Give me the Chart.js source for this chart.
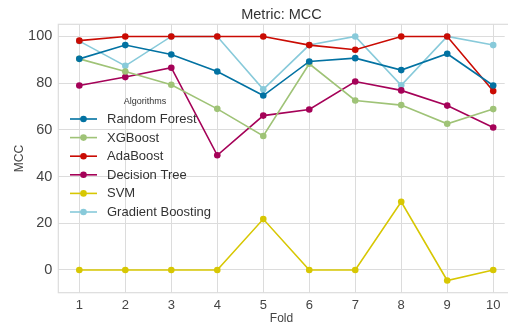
<!DOCTYPE html>
<html>
<head>
<meta charset="utf-8">
<script src="https://cdn.jsdelivr.net/npm/chart.js@4/dist/chart.umd.min.js"></script>
<style>
  html, body { margin: 0; padding: 0; background: #fff; }
  #wrap { width: 508px; height: 325px; }
</style>
</head>
<body>
<div id="wrap"><canvas id="chart" width="508" height="325"></canvas></div>
<script>
// Folds on the x axis
const folds = [1, 2, 3, 4, 5, 6, 7, 8, 9, 10];
const yTicks = [0, 20, 40, 60, 80, 100];

// MCC per fold
const randomForest = [90.4, 96.3, 92.3, 85.0, 74.7, 89.3, 90.7, 85.6, 92.6, 79.0];
const xgBoost = [90.4, 85.0, 79.3, 69.0, 57.4, 88.3, 72.6, 70.6, 62.6, 68.9];
const adaBoost = [98.2, 100, 100, 100, 100, 96.3, 94.3, 100, 100, 76.6];
const decisionTree = [79.0, 82.6, 86.6, 49.1, 66.1, 68.7, 80.7, 76.9, 70.4, 61.0];
const svm = [0, 0, 0, 0, 21.8, 0, 0, 29.2, -4.5, 0];
const gradientBoosting = [98.0, 87.4, 100, 100, 77.4, 96.3, 100, 79.1, 100, 96.3];

const names = ["Random Forest", "XGBoost", "AdaBoost", "Decision Tree", "SVM", "Gradient Boosting"];
const colors = ["#0272a2", "#9fc377", "#ca0b03", "#a50258", "#d7c703", "#88cada"];
const series = [randomForest, xgBoost, adaBoost, decisionTree, svm, gradientBoosting];

const FONT = "'Liberation Sans', Arial, sans-serif";
const GRID = "#dcdcdc";

const datasets = series.map((vals, i) => ({
  label: names[i],
  data: vals.map((v, j) => ({ x: folds[j], y: v })),
  borderColor: colors[i],
  backgroundColor: colors[i],
  borderWidth: 1.6,
  pointRadius: 3.3,
  pointHoverRadius: 3.3,
  pointBorderWidth: 0,
  tension: 0,
}));

// frame round the plot area, like the matplotlib axes box
const framePlugin = {
  id: "frame",
  beforeDatasetsDraw(chart) {
    const { ctx, chartArea: a } = chart;
    ctx.save();
    ctx.strokeStyle = GRID;
    ctx.lineWidth = 1.2;
    ctx.strokeRect(a.left, a.top, a.right - a.left + 6, a.bottom - a.top);
    ctx.restore();
  },
};

// legend inside the plot, with a small title and no box
const legendPlugin = {
  id: "insideLegend",
  afterDatasetsDraw(chart) {
    const { ctx } = chart;
    ctx.save();
    ctx.fillStyle = "#333";
    ctx.font = "9px " + FONT;
    ctx.textAlign = "center";
    ctx.textBaseline = "middle";
    ctx.fillText("Algorithms", 145, 102);
    ctx.font = "13px " + FONT;
    ctx.textAlign = "left";
    chart.data.datasets.forEach((ds, i) => {
      const y = 119 + i * 18.6;
      ctx.strokeStyle = ds.borderColor;
      ctx.lineWidth = 1.6;
      ctx.beginPath();
      ctx.moveTo(70, y);
      ctx.lineTo(97, y);
      ctx.stroke();
      ctx.fillStyle = ds.borderColor;
      ctx.beginPath();
      ctx.arc(83.5, y, 3.3, 0, Math.PI * 2);
      ctx.fill();
      ctx.fillStyle = "#333";
      ctx.fillText(ds.label, 107, y + 0.5);
    });
    ctx.restore();
  },
};

new Chart(document.getElementById("chart"), {
  type: "line",
  data: { datasets },
  plugins: [framePlugin, legendPlugin],
  options: {
    responsive: false,
    animation: false,
    layout: { padding: { left: 0, right: 0, top: 0, bottom: 0 } },
    plugins: {
      legend: { display: false },
      tooltip: { enabled: false },
      title: {
        display: true,
        text: "Metric: MCC",
        fullSize: false,
        color: "#333",
        font: { family: FONT, size: 14.5, weight: "normal" },
        padding: { top: 6, bottom: 0.9 },
      },
    },
    scales: {
      x: {
        type: "linear",
        min: 0.543,
        max: 10.25,
        afterBuildTicks(scale) {
          scale.ticks = folds.map((v) => ({ value: v }));
        },
        afterFit(scale) {
          scale.height = 32.3;
        },
        grid: { color: GRID, lineWidth: 1, drawTicks: false },
        border: { display: false },
        ticks: {
          color: "#444",
          padding: 5,
          font: { family: FONT, size: 13 },
          callback: (v) => String(v),
        },
        title: {
          display: true,
          text: "Fold",
          color: "#444",
          font: { family: FONT, size: 12, lineHeight: 1 },
          padding: { top: 0, bottom: 0 },
        },
      },
      y: {
        type: "linear",
        min: -9.72,
        max: 105.2,
        afterBuildTicks(scale) {
          scale.ticks = yTicks.map((v) => ({ value: v }));
        },
        afterFit(scale) {
          scale.width = 58.3;
        },
        grid: { color: GRID, lineWidth: 1, drawTicks: false },
        border: { display: false },
        ticks: {
          color: "#444",
          padding: 6,
          font: { family: FONT, size: 14.5 },
        },
        title: {
          display: true,
          text: "MCC",
          color: "#444",
          font: { family: FONT, size: 12 },
          padding: { top: 12, bottom: 0 },
        },
      },
    },
  },
});
</script>
</body>
</html>
